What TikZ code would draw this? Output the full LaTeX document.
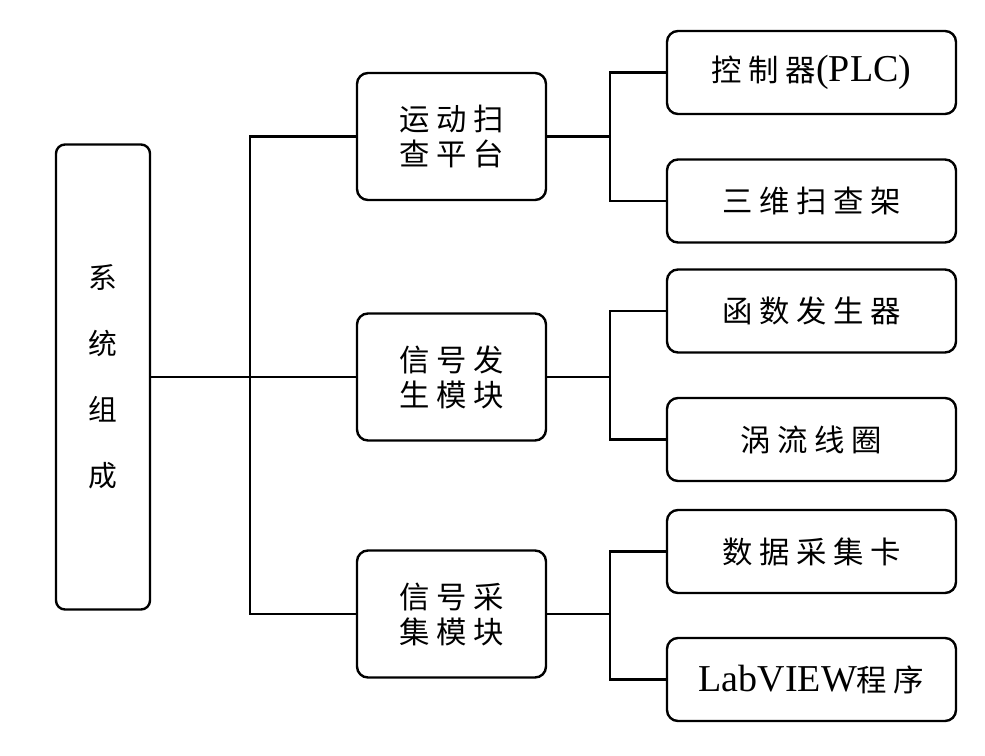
\documentclass[tikz,border=0pt]{standalone}
\usepackage{fontspec}
\setmainfont{Liberation Serif}
\newfontfamily\cjk[Scale=0.8,LetterSpace=22]{Noto Sans CJK SC}

\begin{document}
\begin{tikzpicture}[x=1pt,y=-1pt,
 box/.style={draw,line width=2.4pt,rounded corners=11pt,align=center,inner sep=0pt},
 conn/.style={line width=2.2pt}]

\def\sx{451.5} \def\lx{811.5} \def\ja{250}
\useasboundingbox (0,0) rectangle (985,755);

%root
\node[box,rounded corners=9pt,minimum width=94,minimum height=465,
 font=\fontsize{36}{66}\selectfont\cjk] (root) at (103,377) {系\\统\\组\\成};

%sub
\begin{scope}[every node/.style={box,minimum width=189,minimum height=127,
 font=\fontsize{38}{35}\selectfont\cjk}]
 \node (sub1) at (\sx,136.5) {运动扫\\查平台};
 \node (sub2) at (\sx,377) {信号发\\生模块};
 \node (sub3) at (\sx,614) {信号采\\集模块};
\end{scope}

%leaf
\foreach \n/\y/\t in {1/72.5/{{\cjk 控制器}(PLC)},2/201/{\cjk 三维扫查架},
 3/311/{\cjk 函数发生器},4/439.5/{\cjk 涡流线圈},
 5/551.5/{\cjk 数据采集卡},6/679.5/{LabVIEW{\cjk 程序}}}
 \node[box,minimum width=289,minimum height=83,font=\fontsize{38}{40}\selectfont]
  (leaf\n) at (\lx,\y) {\t};

%root to sub
\coordinate (ja) at (\ja,377);
\draw[conn] (sub1.west) -| (ja) |- (sub3.west);
\draw[conn] (root.east) -- (ja) -- (sub2.west);

%sub to leaf
\foreach \s/\a/\b in {1/1/2,2/3/4,3/5/6} {
 \path (sub\s.east) ++(63,0) coordinate (j\s);
 \draw[conn] (leaf\a.west) -| (j\s) |- (leaf\b.west);
 \draw[conn] (sub\s.east) -- (j\s);
}

\end{tikzpicture}
\end{document}
